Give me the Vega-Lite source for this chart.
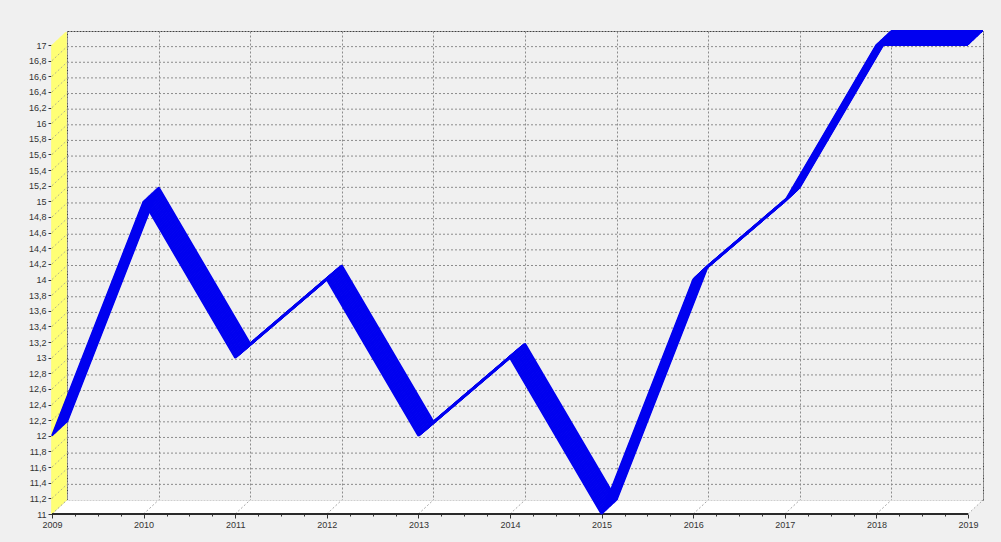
{
  "$schema": "https://vega.github.io/schema/vega-lite/v6.json",
  "width": 916,
  "height": 469,
  "autosize": "none",
  "padding": {"left": 67, "top": 31, "right": 18, "bottom": 42},
  "background": "#f0f0f0",
  "config": {
    "view": {"fill": "#f0f0f0", "stroke": "#404040", "strokeDash": [2, 1], "strokeWidth": 1},
    "axis": {"labelFont": "Liberation Sans", "labelFontSize": 9, "labelColor": "#333333", "tickColor": "#333333"}
  },
  "datasets": {
    "series": [
      {"year": 2009, "value": 12},
      {"year": 2010, "value": 15},
      {"year": 2011, "value": 13},
      {"year": 2012, "value": 14},
      {"year": 2013, "value": 12},
      {"year": 2014, "value": 13},
      {"year": 2015, "value": 11},
      {"year": 2016, "value": 14},
      {"year": 2017, "value": 15},
      {"year": 2018, "value": 17},
      {"year": 2019, "value": 17}
    ],
    "levels": [
      {"v": 11.2}, {"v": 11.4}, {"v": 11.6}, {"v": 11.8}, {"v": 12}, {"v": 12.2}, {"v": 12.4}, {"v": 12.6}, {"v": 12.8}, {"v": 13},
      {"v": 13.2}, {"v": 13.4}, {"v": 13.6}, {"v": 13.8}, {"v": 14}, {"v": 14.2}, {"v": 14.4}, {"v": 14.6}, {"v": 14.8}, {"v": 15},
      {"v": 15.2}, {"v": 15.4}, {"v": 15.6}, {"v": 15.8}, {"v": 16}, {"v": 16.2}, {"v": 16.4}, {"v": 16.6}, {"v": 16.8}
    ]
  },
  "resolve": {"axis": {"x": "independent", "y": "independent"}},
  "layer": [
    {
      "layer": [
        {
          "data": {"name": "levels"},
          "mark": {"type": "rule", "stroke": "#8c8c8c", "strokeDash": [2, 2], "strokeWidth": 1},
          "encoding": {
            "x": {"datum": 2009, "type": "quantitative", "scale": {"domain": [2009, 2019], "nice": false, "zero": false}},
            "x2": {"datum": 2019},
            "y": {"field": "v", "type": "quantitative", "title": null, "scale": {"domain": [11, 17], "nice": false, "zero": false},
              "axis": {"orient": "left", "grid": false, "labels": false, "ticks": false, "domain": false, "title": null}}
          }
        },
        {"data": {"values": [{}]}, "mark": {"type": "rule", "stroke": "#ffffff", "strokeWidth": 1.6, "xOffset": -15, "x2Offset": -15, "yOffset": 14}, "encoding": {"x": {"datum": 2009, "type": "quantitative"}, "x2": {"datum": 2019}, "y": {"datum": 11, "type": "quantitative"}}},
        {"data": {"values": [{}]}, "mark": {"type": "rule", "stroke": "#ffffff", "strokeWidth": 1.6, "xOffset": -14, "x2Offset": -14, "yOffset": 13.07}, "encoding": {"x": {"datum": 2009, "type": "quantitative"}, "x2": {"datum": 2019}, "y": {"datum": 11, "type": "quantitative"}}},
        {"data": {"values": [{}]}, "mark": {"type": "rule", "stroke": "#ffffff", "strokeWidth": 1.6, "xOffset": -13, "x2Offset": -13, "yOffset": 12.13}, "encoding": {"x": {"datum": 2009, "type": "quantitative"}, "x2": {"datum": 2019}, "y": {"datum": 11, "type": "quantitative"}}},
        {"data": {"values": [{}]}, "mark": {"type": "rule", "stroke": "#ffffff", "strokeWidth": 1.6, "xOffset": -12, "x2Offset": -12, "yOffset": 11.2}, "encoding": {"x": {"datum": 2009, "type": "quantitative"}, "x2": {"datum": 2019}, "y": {"datum": 11, "type": "quantitative"}}},
        {"data": {"values": [{}]}, "mark": {"type": "rule", "stroke": "#ffffff", "strokeWidth": 1.6, "xOffset": -11, "x2Offset": -11, "yOffset": 10.27}, "encoding": {"x": {"datum": 2009, "type": "quantitative"}, "x2": {"datum": 2019}, "y": {"datum": 11, "type": "quantitative"}}},
        {"data": {"values": [{}]}, "mark": {"type": "rule", "stroke": "#ffffff", "strokeWidth": 1.6, "xOffset": -10, "x2Offset": -10, "yOffset": 9.33}, "encoding": {"x": {"datum": 2009, "type": "quantitative"}, "x2": {"datum": 2019}, "y": {"datum": 11, "type": "quantitative"}}},
        {"data": {"values": [{}]}, "mark": {"type": "rule", "stroke": "#ffffff", "strokeWidth": 1.6, "xOffset": -9, "x2Offset": -9, "yOffset": 8.4}, "encoding": {"x": {"datum": 2009, "type": "quantitative"}, "x2": {"datum": 2019}, "y": {"datum": 11, "type": "quantitative"}}},
        {"data": {"values": [{}]}, "mark": {"type": "rule", "stroke": "#ffffff", "strokeWidth": 1.6, "xOffset": -8, "x2Offset": -8, "yOffset": 7.47}, "encoding": {"x": {"datum": 2009, "type": "quantitative"}, "x2": {"datum": 2019}, "y": {"datum": 11, "type": "quantitative"}}},
        {"data": {"values": [{}]}, "mark": {"type": "rule", "stroke": "#ffffff", "strokeWidth": 1.6, "xOffset": -7, "x2Offset": -7, "yOffset": 6.53}, "encoding": {"x": {"datum": 2009, "type": "quantitative"}, "x2": {"datum": 2019}, "y": {"datum": 11, "type": "quantitative"}}},
        {"data": {"values": [{}]}, "mark": {"type": "rule", "stroke": "#ffffff", "strokeWidth": 1.6, "xOffset": -6, "x2Offset": -6, "yOffset": 5.6}, "encoding": {"x": {"datum": 2009, "type": "quantitative"}, "x2": {"datum": 2019}, "y": {"datum": 11, "type": "quantitative"}}},
        {"data": {"values": [{}]}, "mark": {"type": "rule", "stroke": "#ffffff", "strokeWidth": 1.6, "xOffset": -5, "x2Offset": -5, "yOffset": 4.67}, "encoding": {"x": {"datum": 2009, "type": "quantitative"}, "x2": {"datum": 2019}, "y": {"datum": 11, "type": "quantitative"}}},
        {"data": {"values": [{}]}, "mark": {"type": "rule", "stroke": "#ffffff", "strokeWidth": 1.6, "xOffset": -4, "x2Offset": -4, "yOffset": 3.73}, "encoding": {"x": {"datum": 2009, "type": "quantitative"}, "x2": {"datum": 2019}, "y": {"datum": 11, "type": "quantitative"}}},
        {"data": {"values": [{}]}, "mark": {"type": "rule", "stroke": "#ffffff", "strokeWidth": 1.6, "xOffset": -3, "x2Offset": -3, "yOffset": 2.8}, "encoding": {"x": {"datum": 2009, "type": "quantitative"}, "x2": {"datum": 2019}, "y": {"datum": 11, "type": "quantitative"}}},
        {"data": {"values": [{}]}, "mark": {"type": "rule", "stroke": "#ffffff", "strokeWidth": 1.6, "xOffset": -2, "x2Offset": -2, "yOffset": 1.87}, "encoding": {"x": {"datum": 2009, "type": "quantitative"}, "x2": {"datum": 2019}, "y": {"datum": 11, "type": "quantitative"}}},
        {"data": {"values": [{}]}, "mark": {"type": "rule", "stroke": "#ffffff", "strokeWidth": 1.6, "xOffset": -1, "x2Offset": -1, "yOffset": 0.93}, "encoding": {"x": {"datum": 2009, "type": "quantitative"}, "x2": {"datum": 2019}, "y": {"datum": 11, "type": "quantitative"}}},

        {"data": {"values": [{}]}, "mark": {"type": "rule", "stroke": "#ffff70", "strokeWidth": 1.6, "xOffset": -15, "yOffset": 14, "y2Offset": 14}, "encoding": {"x": {"datum": 2009, "type": "quantitative"}, "y": {"datum": 11, "type": "quantitative"}, "y2": {"datum": 17}}},
        {"data": {"values": [{}]}, "mark": {"type": "rule", "stroke": "#ffff70", "strokeWidth": 1.6, "xOffset": -14, "yOffset": 13.07, "y2Offset": 13.07}, "encoding": {"x": {"datum": 2009, "type": "quantitative"}, "y": {"datum": 11, "type": "quantitative"}, "y2": {"datum": 17}}},
        {"data": {"values": [{}]}, "mark": {"type": "rule", "stroke": "#ffff70", "strokeWidth": 1.6, "xOffset": -13, "yOffset": 12.13, "y2Offset": 12.13}, "encoding": {"x": {"datum": 2009, "type": "quantitative"}, "y": {"datum": 11, "type": "quantitative"}, "y2": {"datum": 17}}},
        {"data": {"values": [{}]}, "mark": {"type": "rule", "stroke": "#ffff70", "strokeWidth": 1.6, "xOffset": -12, "yOffset": 11.2, "y2Offset": 11.2}, "encoding": {"x": {"datum": 2009, "type": "quantitative"}, "y": {"datum": 11, "type": "quantitative"}, "y2": {"datum": 17}}},
        {"data": {"values": [{}]}, "mark": {"type": "rule", "stroke": "#ffff70", "strokeWidth": 1.6, "xOffset": -11, "yOffset": 10.27, "y2Offset": 10.27}, "encoding": {"x": {"datum": 2009, "type": "quantitative"}, "y": {"datum": 11, "type": "quantitative"}, "y2": {"datum": 17}}},
        {"data": {"values": [{}]}, "mark": {"type": "rule", "stroke": "#ffff70", "strokeWidth": 1.6, "xOffset": -10, "yOffset": 9.33, "y2Offset": 9.33}, "encoding": {"x": {"datum": 2009, "type": "quantitative"}, "y": {"datum": 11, "type": "quantitative"}, "y2": {"datum": 17}}},
        {"data": {"values": [{}]}, "mark": {"type": "rule", "stroke": "#ffff70", "strokeWidth": 1.6, "xOffset": -9, "yOffset": 8.4, "y2Offset": 8.4}, "encoding": {"x": {"datum": 2009, "type": "quantitative"}, "y": {"datum": 11, "type": "quantitative"}, "y2": {"datum": 17}}},
        {"data": {"values": [{}]}, "mark": {"type": "rule", "stroke": "#ffff70", "strokeWidth": 1.6, "xOffset": -8, "yOffset": 7.47, "y2Offset": 7.47}, "encoding": {"x": {"datum": 2009, "type": "quantitative"}, "y": {"datum": 11, "type": "quantitative"}, "y2": {"datum": 17}}},
        {"data": {"values": [{}]}, "mark": {"type": "rule", "stroke": "#ffff70", "strokeWidth": 1.6, "xOffset": -7, "yOffset": 6.53, "y2Offset": 6.53}, "encoding": {"x": {"datum": 2009, "type": "quantitative"}, "y": {"datum": 11, "type": "quantitative"}, "y2": {"datum": 17}}},
        {"data": {"values": [{}]}, "mark": {"type": "rule", "stroke": "#ffff70", "strokeWidth": 1.6, "xOffset": -6, "yOffset": 5.6, "y2Offset": 5.6}, "encoding": {"x": {"datum": 2009, "type": "quantitative"}, "y": {"datum": 11, "type": "quantitative"}, "y2": {"datum": 17}}},
        {"data": {"values": [{}]}, "mark": {"type": "rule", "stroke": "#ffff70", "strokeWidth": 1.6, "xOffset": -5, "yOffset": 4.67, "y2Offset": 4.67}, "encoding": {"x": {"datum": 2009, "type": "quantitative"}, "y": {"datum": 11, "type": "quantitative"}, "y2": {"datum": 17}}},
        {"data": {"values": [{}]}, "mark": {"type": "rule", "stroke": "#ffff70", "strokeWidth": 1.6, "xOffset": -4, "yOffset": 3.73, "y2Offset": 3.73}, "encoding": {"x": {"datum": 2009, "type": "quantitative"}, "y": {"datum": 11, "type": "quantitative"}, "y2": {"datum": 17}}},
        {"data": {"values": [{}]}, "mark": {"type": "rule", "stroke": "#ffff70", "strokeWidth": 1.6, "xOffset": -3, "yOffset": 2.8, "y2Offset": 2.8}, "encoding": {"x": {"datum": 2009, "type": "quantitative"}, "y": {"datum": 11, "type": "quantitative"}, "y2": {"datum": 17}}},
        {"data": {"values": [{}]}, "mark": {"type": "rule", "stroke": "#ffff70", "strokeWidth": 1.6, "xOffset": -2, "yOffset": 1.87, "y2Offset": 1.87}, "encoding": {"x": {"datum": 2009, "type": "quantitative"}, "y": {"datum": 11, "type": "quantitative"}, "y2": {"datum": 17}}},
        {"data": {"values": [{}]}, "mark": {"type": "rule", "stroke": "#ffff70", "strokeWidth": 1.6, "xOffset": -1, "yOffset": 0.93, "y2Offset": 0.93}, "encoding": {"x": {"datum": 2009, "type": "quantitative"}, "y": {"datum": 11, "type": "quantitative"}, "y2": {"datum": 17}}},

        {
          "data": {"name": "series"},
          "mark": {"type": "rule", "stroke": "#a8a8a8", "strokeDash": [2, 2], "xOffset": -15, "yOffset": 14, "x2Offset": 0, "y2Offset": 0},
          "encoding": {
            "x": {"field": "year", "type": "quantitative", "title": null,
              "axis": {"orient": "bottom", "values": [2009, 2010, 2011, 2012, 2013, 2014, 2015, 2016, 2017, 2018, 2019], "grid": true, "gridColor": "#8c8c8c", "gridDash": [2, 2], "gridWidth": 1, "labels": false, "ticks": false, "domain": false, "title": null}},
            "x2": {"field": "year"},
            "y": {"datum": 11, "type": "quantitative"},
            "y2": {"datum": 11}
          }
        },
        {
          "data": {"name": "levels"},
          "mark": {"type": "rule", "stroke": "#b4b48c", "strokeDash": [2, 2], "xOffset": -15, "yOffset": 14, "x2Offset": 0, "y2Offset": 0},
          "encoding": {
            "x": {"datum": 2009, "type": "quantitative"},
            "x2": {"datum": 2009},
            "y": {"field": "v", "type": "quantitative", "title": null},
            "y2": {"field": "v"}
          }
        }
      ]
    },
    {
      "data": {"values": [{}]},
      "mark": {"type": "rule", "stroke": "#2a2a2a", "strokeWidth": 2, "xOffset": -15, "x2Offset": -15, "yOffset": 14},
      "encoding": {
        "x": {"datum": 2009, "type": "quantitative",
          "axis": {"orient": "bottom", "offset": 14, "tickOffset": -15, "values": [2009.25, 2009.5, 2009.75, 2010.25, 2010.5, 2010.75, 2011.25, 2011.5, 2011.75, 2012.25, 2012.5, 2012.75, 2013.25, 2013.5, 2013.75, 2014.25, 2014.5, 2014.75, 2015.25, 2015.5, 2015.75, 2016.25, 2016.5, 2016.75, 2017.25, 2017.5, 2017.75, 2018.25, 2018.5, 2018.75], "labels": false, "domain": false, "grid": false, "tickSize": 2, "title": null}},
        "x2": {"datum": 2019},
        "y": {"datum": 11, "type": "quantitative", "axis": null}
      }
    },
    {
      "data": {"name": "series"},
      "encoding": {
        "x": {"field": "year", "type": "quantitative", "title": null,
          "axis": {"orient": "bottom", "offset": 14, "tickOffset": -15, "values": [2009, 2010, 2011, 2012, 2013, 2014, 2015, 2016, 2017, 2018, 2019], "format": "d", "domain": false, "grid": false, "tickSize": 4, "labelPadding": 2, "labelFlush": false, "labelOverlap": false, "labelBound": false, "title": null}},
        "y": {"field": "value", "type": "quantitative", "title": null,
          "axis": {"orient": "left", "offset": 15, "tickOffset": 14, "values": [11, 11.2, 11.4, 11.6, 11.8, 12, 12.2, 12.4, 12.6, 12.8, 13, 13.2, 13.4, 13.6, 13.8, 14, 14.2, 14.4, 14.6, 14.8, 15, 15.2, 15.4, 15.6, 15.8, 16, 16.2, 16.4, 16.6, 16.8, 17], "format": ".1~f", "labelExpr": "replace(datum.label, '.', ',')", "domain": false, "grid": false, "tickSize": 4, "labelPadding": 2, "labelFlush": false, "labelOverlap": false, "labelBound": false, "title": null}}
      },
      "layer": [
        {"mark": {"type": "line", "color": "#0000f0", "strokeWidth": 2, "strokeJoin": "bevel", "xOffset": 0, "yOffset": 0}},
        {"mark": {"type": "line", "color": "#0000f0", "strokeWidth": 2, "strokeJoin": "bevel", "xOffset": -1, "yOffset": 0.93}},
        {"mark": {"type": "line", "color": "#0000f0", "strokeWidth": 2, "strokeJoin": "bevel", "xOffset": -2, "yOffset": 1.87}},
        {"mark": {"type": "line", "color": "#0000f0", "strokeWidth": 2, "strokeJoin": "bevel", "xOffset": -3, "yOffset": 2.8}},
        {"mark": {"type": "line", "color": "#0000f0", "strokeWidth": 2, "strokeJoin": "bevel", "xOffset": -4, "yOffset": 3.73}},
        {"mark": {"type": "line", "color": "#0000f0", "strokeWidth": 2, "strokeJoin": "bevel", "xOffset": -5, "yOffset": 4.67}},
        {"mark": {"type": "line", "color": "#0000f0", "strokeWidth": 2, "strokeJoin": "bevel", "xOffset": -6, "yOffset": 5.6}},
        {"mark": {"type": "line", "color": "#0000f0", "strokeWidth": 2, "strokeJoin": "bevel", "xOffset": -7, "yOffset": 6.53}},
        {"mark": {"type": "line", "color": "#0000f0", "strokeWidth": 2, "strokeJoin": "bevel", "xOffset": -8, "yOffset": 7.47}},
        {"mark": {"type": "line", "color": "#0000f0", "strokeWidth": 2, "strokeJoin": "bevel", "xOffset": -9, "yOffset": 8.4}},
        {"mark": {"type": "line", "color": "#0000f0", "strokeWidth": 2, "strokeJoin": "bevel", "xOffset": -10, "yOffset": 9.33}},
        {"mark": {"type": "line", "color": "#0000f0", "strokeWidth": 2, "strokeJoin": "bevel", "xOffset": -11, "yOffset": 10.27}},
        {"mark": {"type": "line", "color": "#0000f0", "strokeWidth": 2, "strokeJoin": "bevel", "xOffset": -12, "yOffset": 11.2}},
        {"mark": {"type": "line", "color": "#0000f0", "strokeWidth": 2, "strokeJoin": "bevel", "xOffset": -13, "yOffset": 12.13}},
        {"mark": {"type": "line", "color": "#0000f0", "strokeWidth": 2, "strokeJoin": "bevel", "xOffset": -14, "yOffset": 13.07}},
        {"mark": {"type": "line", "color": "#0000f0", "strokeWidth": 2, "strokeJoin": "bevel", "xOffset": -15, "yOffset": 14}},

        {"data": {"values": [{}]}, "mark": {"type": "rule", "stroke": "#000000", "strokeWidth": 1, "xOffset": -15, "yOffset": 14, "x2Offset": 0, "y2Offset": 0}, "encoding": {"x": {"datum": 2009, "type": "quantitative"}, "x2": {"datum": 2009}, "y": {"datum": 17, "type": "quantitative"}, "y2": {"datum": 17}}},
        {"data": {"values": [{}]}, "mark": {"type": "rule", "stroke": "#505050", "strokeWidth": 1, "xOffset": -15, "yOffset": 14, "x2Offset": 0, "y2Offset": 0}, "encoding": {"x": {"datum": 2009, "type": "quantitative"}, "x2": {"datum": 2009}, "y": {"datum": 11, "type": "quantitative"}, "y2": {"datum": 11}}},
        {"data": {"values": [{}]}, "mark": {"type": "rule", "stroke": "#707070", "strokeWidth": 1, "xOffset": -15, "yOffset": 14, "x2Offset": 0, "y2Offset": 0}, "encoding": {"x": {"datum": 2019, "type": "quantitative"}, "x2": {"datum": 2019}, "y": {"datum": 11, "type": "quantitative"}, "y2": {"datum": 11}}},
        {"data": {"values": [{}]}, "mark": {"type": "rule", "stroke": "#000000", "strokeWidth": 2, "xOffset": -15, "yOffset": 14, "y2Offset": 14}, "encoding": {"x": {"datum": 2009, "type": "quantitative"}, "y": {"datum": 11, "type": "quantitative"}, "y2": {"datum": 17}}}
      ]
    }
  ]
}
